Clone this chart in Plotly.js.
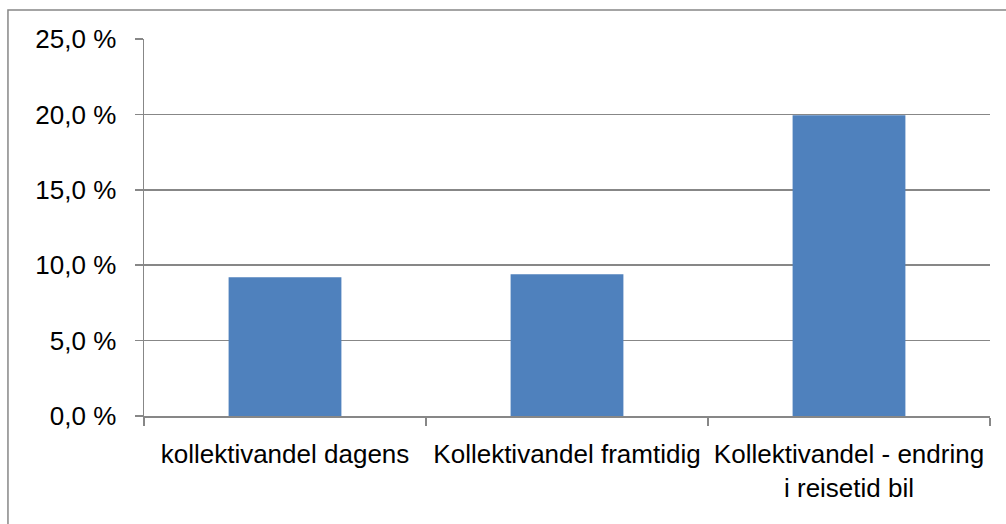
<!DOCTYPE html>
<html>
<head>
<meta charset="utf-8">
<script src="https://cdn.plot.ly/plotly-3.0.1.min.js"></script>
<style>
html,body{margin:0;padding:0;background:#fff;}
#chart{width:1006px;height:524px;}
</style>
</head>
<body>
<div id="chart"></div>
<script>
const categories = ["kollektivandel dagens", "Kollektivandel framtidig", "Kollektivandel - endring<br>i reisetid bil"];
const values = [9.2, 9.4, 19.95];
const yTickVals = [0, 5, 10, 15, 20, 25];
const yTickText = ["0,0 %", "5,0 %", "10,0 %", "15,0 %", "20,0 %", "25,0 %"];

const grey = "#878787";
const data = [{
  type: "bar",
  x: categories,
  y: values,
  marker: {color: "#4F81BD", line: {width: 0}},
  hoverinfo: "skip"
}];
const layout = {
  width: 1006, height: 524,
  margin: {l: 144, r: 16, t: 39, b: 108},
  paper_bgcolor: "#fff", plot_bgcolor: "#fff",
  font: {family: "Liberation Sans, Arial, sans-serif", size: 26, color: "#000"},
  bargap: 0.6,
  showlegend: false,
  xaxis: {
    type: "category",
    showgrid: false,
    showline: true, linecolor: grey, linewidth: 1.5,
    ticks: "outside", tickson: "boundaries", ticklen: 8, tickcolor: grey, tickwidth: 1.5,
    tickfont: {size: 26},
    tickangle: 0,
    ticklabelstandoff: 14
  },
  yaxis: {
    range: [0, 25],
    tickvals: yTickVals, ticktext: yTickText,
    showgrid: true, gridcolor: grey, gridwidth: 1.5,
    showline: true, linecolor: grey, linewidth: 1.5,
    ticks: "outside", ticklen: 8, tickcolor: grey, tickwidth: 1.5,
    tickfont: {size: 26},
    ticklabelstandoff: 13,
    zeroline: false
  },
  shapes: [{
    type: "rect", xref: "paper", yref: "paper",
    x0: -0.1608, x1: 1.1, y0: -0.4, y1: 1.0769,
    line: {color: grey, width: 1.5}, fillcolor: "rgba(0,0,0,0)", layer: "below"
  }]
};
Plotly.newPlot("chart", data, layout, {displayModeBar: false, staticPlot: true});
</script>
</body>
</html>
